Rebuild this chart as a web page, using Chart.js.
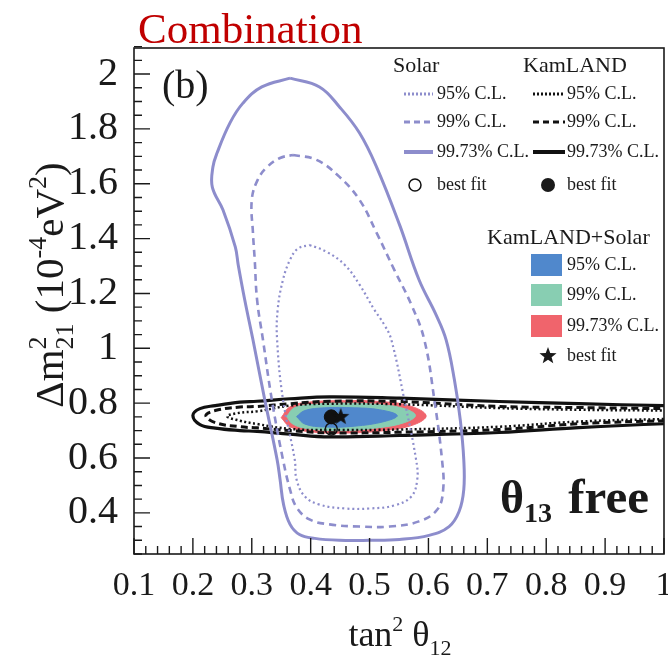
<!DOCTYPE html>
<html>
<head>
<meta charset="utf-8">
<script src="https://cdn.jsdelivr.net/npm/chart.js@4.4.1/dist/chart.umd.min.js"></script>
<style>
  html, body { margin: 0; padding: 0; background: #fff; }
  #wrap { width: 668px; height: 660px; }
</style>
</head>
<body>
<div id="wrap"><canvas id="c" width="668" height="660"></canvas></div>
<script>
// axis ticks
const xTickValues = [0.1, 0.2, 0.3, 0.4, 0.5, 0.6, 0.7, 0.8, 0.9, 1.0];
const xTickLabels = ["0.1", "0.2", "0.3", "0.4", "0.5", "0.6", "0.7", "0.8", "0.9", "1"];
const yTickValues = [0.4, 0.6, 0.8, 1.0, 1.2, 1.4, 1.6, 1.8, 2.0];
const yTickLabels = ["0.4", "0.6", "0.8", "1", "1.2", "1.4", "1.6", "1.8", "2"];

// Solar contours [tan2theta12, dm2_21 in 1e-4 eV2]
const solar95 = [[0.398,1.377],[0.427,1.352],[0.458,1.304],[0.483,1.232],[0.508,1.141],[0.525,1.086],[0.537,1.031],[0.559,0.813],[0.579,0.594],[0.581,0.522],[0.571,0.460],[0.542,0.427],[0.500,0.416],[0.458,0.416],[0.415,0.430],[0.390,0.460],[0.376,0.522],[0.373,0.594],[0.353,0.813],[0.343,1.031],[0.344,1.141],[0.353,1.250],[0.365,1.323],[0.378,1.363]];
const solar99 = [[0.370,1.705],[0.410,1.687],[0.449,1.625],[0.483,1.541],[0.512,1.421],[0.542,1.286],[0.571,1.159],[0.593,1.031],[0.610,0.813],[0.623,0.594],[0.625,0.485],[0.615,0.412],[0.584,0.369],[0.534,0.350],[0.483,0.350],[0.432,0.358],[0.398,0.376],[0.376,0.420],[0.365,0.485],[0.353,0.594],[0.334,0.813],[0.319,1.031],[0.309,1.177],[0.305,1.323],[0.302,1.421],[0.300,1.541],[0.310,1.614],[0.326,1.661],[0.348,1.694]];
const solar9973 = [[0.365,1.985],[0.415,1.953],[0.449,1.880],[0.483,1.785],[0.512,1.661],[0.551,1.450],[0.584,1.250],[0.613,1.122],[0.630,1.031],[0.644,0.886],[0.654,0.740],[0.660,0.594],[0.660,0.485],[0.652,0.405],[0.635,0.350],[0.601,0.318],[0.551,0.303],[0.500,0.300],[0.449,0.300],[0.407,0.307],[0.381,0.321],[0.365,0.358],[0.354,0.430],[0.348,0.522],[0.343,0.594],[0.322,0.813],[0.302,1.031],[0.288,1.177],[0.277,1.304],[0.272,1.370],[0.251,1.505],[0.233,1.588],[0.234,1.661],[0.241,1.712],[0.263,1.822],[0.285,1.894],[0.317,1.953]];

// KamLAND contours, open past the right edge
const kam95 = [[1.05,0.772],[1.0,0.773],[0.855,0.776],[0.720,0.782],[0.551,0.796],[0.432,0.798],[0.365,0.791],[0.309,0.770],[0.280,0.765],[0.258,0.752],[0.280,0.736],[0.309,0.724],[0.365,0.706],[0.432,0.702],[0.551,0.704],[0.720,0.714],[0.855,0.733],[1.0,0.742],[1.05,0.743]];
const kam99 = [[1.05,0.779],[1.0,0.780],[0.855,0.784],[0.720,0.788],[0.551,0.806],[0.432,0.807],[0.365,0.798],[0.309,0.788],[0.280,0.786],[0.238,0.773],[0.222,0.755],[0.238,0.729],[0.280,0.714],[0.309,0.710],[0.365,0.700],[0.432,0.692],[0.551,0.694],[0.720,0.704],[0.855,0.725],[1.0,0.736],[1.05,0.737]];
const kam9973 = [[1.05,0.790],[1.0,0.791],[0.855,0.798],[0.720,0.806],[0.551,0.818],[0.432,0.823],[0.365,0.816],[0.309,0.807],[0.280,0.804],[0.238,0.791],[0.212,0.780],[0.200,0.755],[0.212,0.722],[0.238,0.709],[0.280,0.700],[0.309,0.697],[0.365,0.687],[0.432,0.677],[0.551,0.682],[0.720,0.693],[0.855,0.711],[1.0,0.725],[1.05,0.726]];

// KamLAND+Solar allowed regions
const comb95 = [[0.376,0.751],[0.390,0.773],[0.424,0.783],[0.474,0.783],[0.517,0.776],[0.547,0.755],[0.525,0.733],[0.474,0.716],[0.424,0.713],[0.390,0.724]];
const comb99 = [[0.359,0.751],[0.373,0.784],[0.407,0.796],[0.458,0.800],[0.517,0.795],[0.559,0.780],[0.578,0.755],[0.559,0.729],[0.517,0.711],[0.458,0.700],[0.402,0.705],[0.371,0.722]];
const comb9973 = [[0.350,0.747],[0.365,0.787],[0.398,0.804],[0.458,0.809],[0.517,0.806],[0.567,0.791],[0.596,0.755],[0.576,0.722],[0.525,0.700],[0.458,0.691],[0.398,0.696],[0.365,0.714]];

// best fit points
const solarBest = [0.435, 0.706];
const kamBest = [0.435, 0.750];
const combBest = [0.451, 0.750];

const LAV = "#8d8dcc";
const SERIF = "'Liberation Serif', 'Times New Roman', serif";
const X_FONT = 34;
const X_PAD = 12;

function pts(arr, close) {
    const out = arr.map(p => ({ x: p[0], y: p[1] }));
    if (close) out.push({ x: arr[0][0], y: arr[0][1] });
    return out;
}

function starPath(g, cx, cy, r) {
    g.beginPath();
    for (let i = 0; i < 10; i++) {
        const rad = i % 2 === 0 ? r : r * 0.42;
        const a = -Math.PI / 2 + i * Math.PI / 5;
        g.lineTo(cx + rad * Math.cos(a), cy + rad * Math.sin(a));
    }
    g.closePath();
}

function starImage(r, color) {
    const c = document.createElement("canvas");
    c.width = c.height = 2 * r + 2;
    const g = c.getContext("2d");
    starPath(g, r + 1, r + 1, r);
    g.fillStyle = color;
    g.fill();
    return c;
}

// draws a row of text pieces with super/subscripts at baseline y
function richText(ctx, pieces, x, y, center) {
    const widths = pieces.map(p => {
        ctx.font = (p.bold ? "bold " : "") + p.s + "px " + SERIF;
        if (p.stack) return Math.max(...p.stack.map(t => ctx.measureText(t).width));
        return ctx.measureText(p.t).width;
    });
    const w = widths.reduce((a, b) => a + b, 0);
    let cx = center ? x - w / 2 : x;
    pieces.forEach((p, i) => {
        ctx.font = (p.bold ? "bold " : "") + p.s + "px " + SERIF;
        if (p.stack) {
            ctx.fillText(p.stack[0], cx, y + p.up);
            ctx.fillText(p.stack[1], cx, y + p.down);
        } else {
            ctx.fillText(p.t, cx, y + (p.dy || 0));
        }
        cx += widths[i] + (p.gap || 0);
    });
}

const lineDs = (label, data, color, width, dash, order) => ({
    label, data, borderColor: color, borderWidth: width, borderDash: dash,
    pointRadius: 0, tension: 0.4, fill: false, order
});
const fillDs = (label, data, color, order) => ({
    label, data, borderColor: color, backgroundColor: color, borderWidth: 1,
    pointRadius: 0, tension: 0.4, fill: "shape", order
});

const decorPlugin = {
    id: "decor",
    afterDatasetsDraw(chart) {
        const { ctx, chartArea: a, scales: { x, y } } = chart;
        ctx.save();
        // frame
        ctx.strokeStyle = "#1a1a1a";
        ctx.lineWidth = 1.6;
        ctx.strokeRect(a.left, a.top, a.right - a.left, a.bottom - a.top);
        // inward ticks
        ctx.lineWidth = 1.4;
        ctx.beginPath();
        for (let i = 0; i <= 45; i++) {
            const px = x.getPixelForValue(0.1 + i * 0.02);
            const len = i % 5 === 0 ? 16 : 8;
            ctx.moveTo(px, a.bottom);
            ctx.lineTo(px, a.bottom - len);
        }
        for (let i = 0; i <= 37; i++) {
            const py = y.getPixelForValue(0.25 + i * 0.05);
            const len = i % 4 === 3 ? 16 : 8;
            ctx.moveTo(a.left, py);
            ctx.lineTo(a.left + len, py);
        }
        ctx.stroke();

        ctx.fillStyle = "#1a1a1a";
        // last x label sits on the canvas edge, drawn here so it does not shrink the plot
        const last = xTickLabels.length - 1;
        ctx.font = X_FONT + "px " + SERIF;
        ctx.textAlign = "center";
        ctx.textBaseline = "middle";
        ctx.fillText(xTickLabels[last], x.getPixelForValue(xTickValues[last]), a.bottom + X_PAD + X_FONT * 0.6);
        ctx.textAlign = "left";

        ctx.textBaseline = "alphabetic";
        // panel label
        ctx.font = "40px " + SERIF;
        ctx.fillText("(b)", 162, 98);
        // theta13 free
        richText(ctx, [
            { t: "θ", s: 46, bold: true },
            { t: "13", s: 28, bold: true, dy: 9, gap: 4 },
            { t: " free", s: 49, bold: true }
        ], 500, 513, false);

        // Solar / KamLAND legend
        ctx.font = "22px " + SERIF;
        ctx.textBaseline = "middle";
        ctx.fillText("Solar", 393, 66);
        ctx.fillText("KamLAND", 523, 66);
        const rows = [94, 122, 152];
        const rowTxt = ["95% C.L.", "99% C.L.", "99.73% C.L."];
        const dashes = [[2, 2], [6, 4], []];
        const widths = [3, 3, 4];
        rows.forEach((ry, i) => {
            ctx.setLineDash(dashes[i]);
            ctx.lineWidth = widths[i];
            ctx.strokeStyle = LAV;
            ctx.beginPath(); ctx.moveTo(404, ry); ctx.lineTo(433, ry); ctx.stroke();
            ctx.strokeStyle = "#111";
            ctx.beginPath(); ctx.moveTo(533, ry); ctx.lineTo(565, ry); ctx.stroke();
            ctx.font = "18px " + SERIF;
            ctx.fillText(rowTxt[i], 437, ry);
            ctx.fillText(rowTxt[i], 567, ry);
        });
        ctx.setLineDash([]);
        ctx.lineWidth = 1.5;
        ctx.strokeStyle = "#111";
        ctx.beginPath(); ctx.arc(415, 185, 6, 0, Math.PI * 2); ctx.stroke();
        ctx.beginPath(); ctx.arc(548, 185, 7, 0, Math.PI * 2); ctx.fill();
        ctx.fillText("best fit", 437, 185);
        ctx.fillText("best fit", 567, 185);

        // KamLAND+Solar legend
        ctx.font = "22px " + SERIF;
        ctx.fillText("KamLAND+Solar", 487, 238);
        const sw = [["#5088cc", 254, "95% C.L."], ["#88ceb2", 284, "99% C.L."], ["#f0646c", 315, "99.73% C.L."]];
        sw.forEach(s => {
            ctx.fillStyle = s[0];
            ctx.fillRect(531, s[1], 31, 22);
            ctx.fillStyle = "#1a1a1a";
            ctx.font = "18px " + SERIF;
            ctx.fillText(s[2], 567, s[1] + 11);
        });
        starPath(ctx, 548, 356, 9);
        ctx.fill();
        ctx.fillText("best fit", 567, 356);

        // title
        ctx.textBaseline = "alphabetic";
        ctx.fillStyle = "#c00000";
        ctx.font = "43px " + SERIF;
        ctx.fillText("Combination", 138, 43);

        // axis titles
        ctx.fillStyle = "#1a1a1a";
        richText(ctx, [
            { t: "tan", s: 36 },
            { t: "2", s: 22, dy: -15 },
            { t: " θ", s: 36 },
            { t: "12", s: 22, dy: 9 }
        ], 400, 646, true);
        ctx.translate(63, 285);
        ctx.rotate(-Math.PI / 2);
        richText(ctx, [
            { t: "Δm", s: 41 },
            { stack: ["2", "21"], s: 26, up: -17, down: 10 },
            { t: " (10", s: 41 },
            { t: "-4", s: 26, dy: -17 },
            { t: "eV", s: 41 },
            { t: "2", s: 26, dy: -17 },
            { t: ")", s: 41 }
        ], 0, 0, true);
        ctx.restore();
    }
};

new Chart(document.getElementById("c"), {
    type: "line",
    data: {
        datasets: [
            { label: "KamLAND+Solar best fit", data: pts([combBest]), showLine: false,
              pointStyle: starImage(9, "#111"), pointRadius: 9, order: 0 },
            { label: "KamLAND best fit", data: pts([kamBest]), showLine: false,
              pointStyle: "circle", pointRadius: 7, backgroundColor: "#111", borderColor: "#111", order: 0 },
            { label: "Solar best fit", data: pts([solarBest]), showLine: false,
              pointStyle: "circle", pointRadius: 6, backgroundColor: "rgba(0,0,0,0)", borderColor: "#111", borderWidth: 1.5, order: 0 },
            lineDs("Solar 95%", pts(solar95, true), LAV, 2.2, [2, 3], 1),
            lineDs("Solar 99%", pts(solar99, true), LAV, 2.6, [7, 5], 1),
            lineDs("Solar 99.73%", pts(solar9973, true), LAV, 3, [], 1),
            lineDs("KamLAND 95%", pts(kam95), "#111", 2.5, [2, 2.5], 2),
            lineDs("KamLAND 99%", pts(kam99), "#111", 3, [7, 4], 2),
            lineDs("KamLAND 99.73%", pts(kam9973), "#111", 3.2, [], 2),
            fillDs("Comb 95%", pts(comb95, true), "#5088cc", 3),
            fillDs("Comb 99%", pts(comb99, true), "#88ceb2", 4),
            fillDs("Comb 99.73%", pts(comb9973, true), "#f0646c", 5)
        ]
    },
    options: {
        responsive: false,
        animation: false,
        layout: { autoPadding: false, padding: { top: 48, right: 4, left: 0, bottom: 0 } },
        plugins: { legend: { display: false }, tooltip: { enabled: false } },
        scales: {
            x: {
                type: "linear", min: 0.1, max: 1.0,
                grid: { display: false, drawTicks: false },
                border: { display: false },
                afterBuildTicks: s => { s.ticks = xTickValues.map(v => ({ value: v })); },
                afterFit: s => { s.height = 106; s.paddingLeft = 0; s.paddingRight = 0; },
                ticks: {
                    autoSkip: false, maxRotation: 0, padding: X_PAD, color: "#1a1a1a",
                    font: { family: SERIF, size: X_FONT },
                    callback: (v, i) => (i === xTickLabels.length - 1 ? "" : xTickLabels[i])
                }
            },
            y: {
                type: "linear", min: 0.25, max: 2.095,
                grid: { display: false, drawTicks: false },
                border: { display: false },
                afterBuildTicks: s => { s.ticks = yTickValues.map(v => ({ value: v })); },
                afterFit: s => { s.width = 134; },
                ticks: {
                    autoSkip: false, padding: 16, color: "#1a1a1a",
                    font: { family: SERIF, size: 40 },
                    callback: (v, i) => yTickLabels[i]
                }
            }
        }
    },
    plugins: [decorPlugin]
});
</script>
</body>
</html>
